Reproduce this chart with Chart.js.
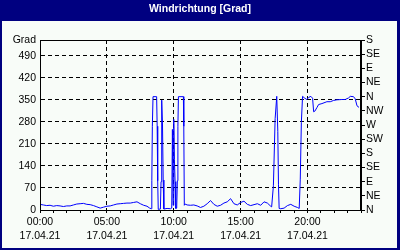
<!DOCTYPE html>
<html><head><meta charset="utf-8">
<script src="https://cdn.jsdelivr.net/npm/chart.js@4"></script>
<style>html,body{margin:0;padding:0;background:#000080;overflow:hidden}</style>
</head><body>
<canvas id="c" width="400" height="250"></canvas>
<script>
const chartTitle = 'Windrichtung [Grad]';
const unitLabel = 'Grad';
const dateLabel = '17.04.21';
const hourLabels = ['00:00','05:00','10:00','15:00','20:00'];
const labelHours = [0,5,10,15,20];
const degreeTicks = [0,70,140,210,280,350,420,490,540];
const compassTicks = [0,45,90,135,180,225,270,315,360,405,450,495,540];
const compassLabels = ['N','NE','E','SE','S','SW','W','NW','N','NE','E','SE','S'];

const hours = [0.00,0.25,0.50,0.75,1.00,1.25,1.50,1.75,2.00,2.25,2.50,2.75,3.00,3.25,3.50,3.75,4.00,4.25,4.50,4.75,5.00,5.25,5.50,5.75,6.00,6.25,6.50,6.75,7.00,7.25,7.50,7.75,8.00,8.20,8.33,8.36,8.40,8.45,8.72,8.76,8.80,8.84,9.00,9.05,9.10,9.16,9.21,9.26,9.50,9.75,9.85,9.90,9.95,10.00,10.05,10.10,10.15,10.22,10.27,10.31,10.35,10.72,10.75,10.79,10.85,11.00,11.25,11.50,11.75,12.00,12.25,12.50,12.75,13.00,13.25,13.50,13.75,14.00,14.25,14.50,14.75,15.00,15.25,15.50,15.75,16.00,16.25,16.50,16.75,17.00,17.25,17.32,17.45,17.58,17.70,17.78,17.83,17.88,18.00,18.25,18.50,18.75,19.00,19.25,19.38,19.46,19.54,19.63,19.80,19.95,20.10,20.25,20.38,20.46,20.55,20.70,20.83,21.08,21.45,21.70,21.95,22.20,22.57,22.82,23.07,23.20,23.44,23.57,23.70,23.85];
const degrees = [18,16,14,15,12,14,13,11,13,13,16,19,20,21,18,17,14,10,6,9,12,13,16,19,20,21,22,22,24,26,20,15,12,6,4,93,266,360,360,266,93,2,3,90,349,270,95,3,5,4,6,256,15,288,160,90,5,6,93,266,360,360,266,15,19,16,15,16,13,8,12,20,30,18,12,15,22,26,36,20,16,24,28,18,14,17,20,15,26,22,12,10,77,290,361,250,80,5,4,6,14,18,12,8,5,98,278,361,355,351,358,361,355,312,314,325,335,338,344,344,348,350,351,351,356,361,360,353,331,326];

const FONT = 'Liberation Sans, Arial, sans-serif';

const framePlugin = {
  id: 'frame',
  beforeDraw(chart) {
    const ctx = chart.ctx;
    ctx.save();
    ctx.fillStyle = '#000080';
    ctx.fillRect(0, 0, 400, 250);
    ctx.fillStyle = '#f8fcf8';
    ctx.fillRect(2, 21, 395, 227);
    ctx.restore();
  },
  afterDraw(chart) {
    const a = chart.chartArea, ctx = chart.ctx;
    ctx.save();
    ctx.strokeStyle = '#000';
    ctx.lineWidth = 1;
    ctx.strokeRect(Math.round(a.left) + 0.5, Math.round(a.top) + 0.5, Math.round(a.right - a.left) - 1, Math.round(a.bottom - a.top));
    ctx.restore();
  }
};

new Chart(document.getElementById('c'), {
  type: 'line',
  data: {
    datasets: [{
      data: hours.map((h, i) => ({x: h, y: degrees[i]})),
      borderColor: '#0000ff',
      borderWidth: 1,
      pointRadius: 0,
      tension: 0,
      fill: false,
      yAxisID: 'y'
    }]
  },
  options: {
    responsive: false,
    devicePixelRatio: 1,
    animation: false,
    events: [],
    layout: {padding: {top: 0, left: 2, right: 2, bottom: 2}},
    plugins: {
      legend: {display: false},
      tooltip: {enabled: false},
      title: {
        display: true,
        text: chartTitle,
        color: '#ffffff',
        font: {family: FONT, size: 10.5, weight: 'bold', lineHeight: 1.2},
        padding: {top: 3, bottom: 24.4}
      }
    },
    scales: {
      x: {
        type: 'linear',
        min: 0, max: 24,
        afterBuildTicks: s => { s.ticks = Array.from({length: 25}, (_, i) => ({value: i})); },
        afterFit: s => { s.height = 38; },
        ticks: {
          autoSkip: false, maxRotation: 0, minRotation: 0,
          color: '#000', padding: 3,
          font: {family: FONT, size: 10.5, lineHeight: 1.25},
          callback: v => { const k = labelHours.indexOf(v); return k >= 0 ? [hourLabels[k], dateLabel] : ''; }
        },
        grid: {
          color: c => (c.tick && c.tick.value % 5 === 0 && c.tick.value > 0 && c.tick.value < 24) ? '#000' : 'rgba(0,0,0,0)',
          tickColor: '#000', tickLength: 3, lineWidth: 1
        },
        border: {display: true, color: '#000', dash: [4, 3]}
      },
      y: {
        position: 'left',
        min: 0, max: 540,
        afterBuildTicks: s => { s.ticks = degreeTicks.map(v => ({value: v})); },
        afterFit: s => { s.width = 38; },
        ticks: {
          autoSkip: false,
          color: '#000', padding: 4,
          font: {family: FONT, size: 10.5},
          callback: v => v === 540 ? unitLabel : String(v)
        },
        grid: {
          color: c => (c.tick && c.tick.value > 0 && c.tick.value < 540) ? '#000' : 'rgba(0,0,0,0)',
          drawTicks: false, lineWidth: 1
        },
        border: {display: true, color: '#000', dash: [4, 3]}
      },
      y2: {
        position: 'right',
        min: 0, max: 540,
        afterBuildTicks: s => { s.ticks = compassTicks.map(v => ({value: v})); },
        afterFit: s => { s.width = 37; },
        ticks: {
          autoSkip: false,
          color: '#000', padding: 1,
          font: {family: FONT, size: 10.5},
          callback: v => compassLabels[compassTicks.indexOf(v)]
        },
        grid: {drawOnChartArea: false, tickColor: '#000', tickLength: 4, lineWidth: 1},
        border: {display: true, color: '#000'}
      }
    }
  },
  plugins: [framePlugin]
});
</script>
</body></html>
